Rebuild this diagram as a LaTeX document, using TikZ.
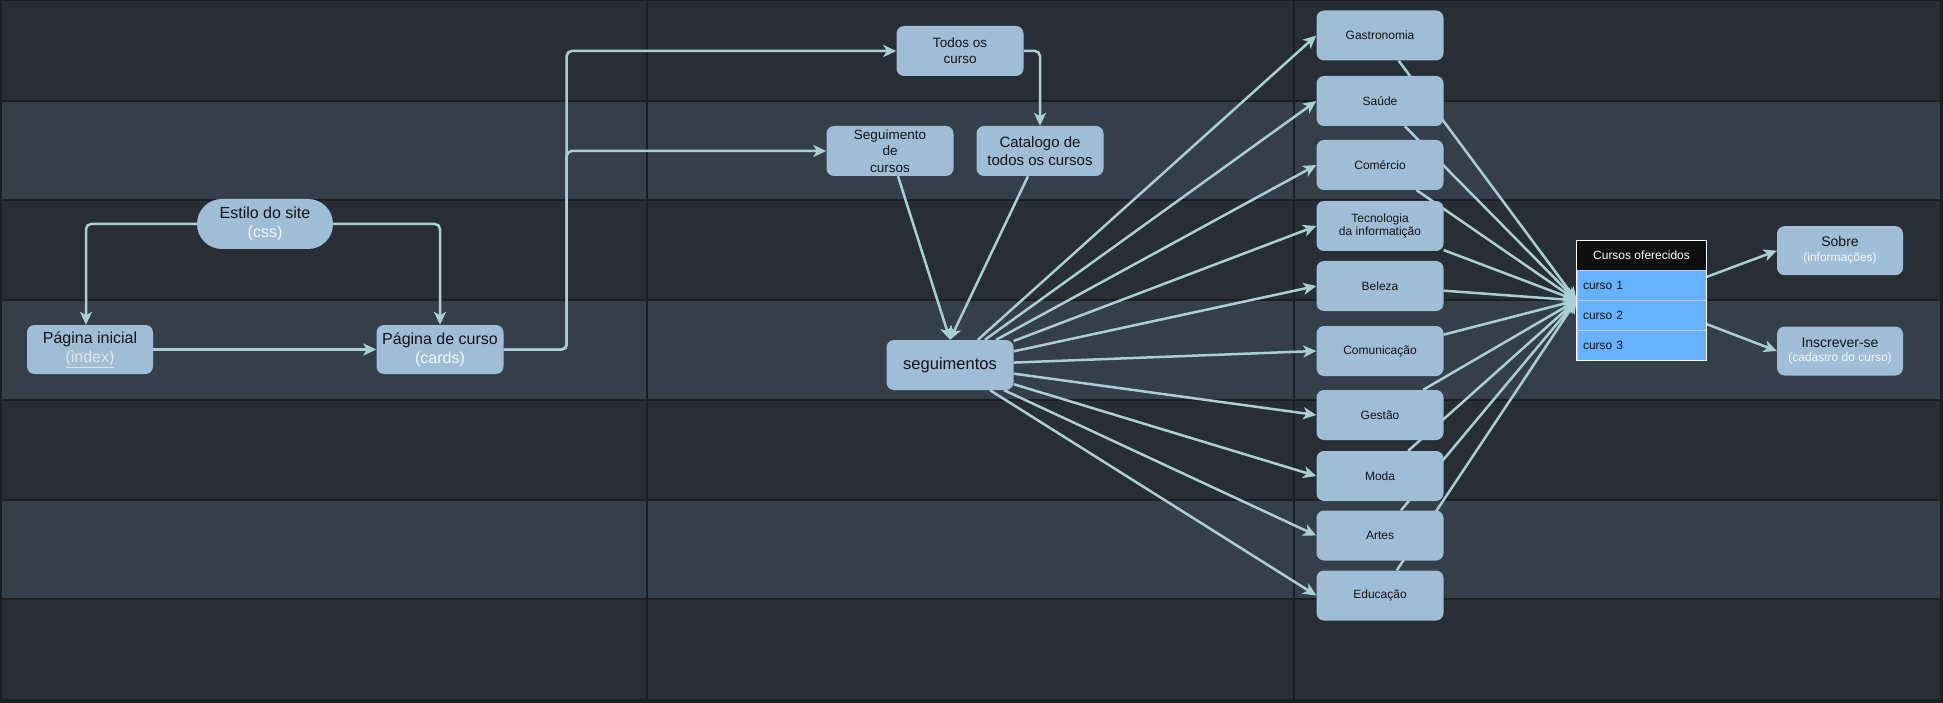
\documentclass[tikz,border=0pt]{standalone}
\usepackage{fontspec}
\setmainfont{Liberation Sans}
\usetikzlibrary{arrows.meta,calc}
\definecolor{bgline}{HTML}{1B1E22}
\definecolor{rowdark}{HTML}{282E36}
\definecolor{rowlight}{HTML}{353F49}
\definecolor{boxfill}{HTML}{A0BDD6}
\definecolor{edgecol}{HTML}{A8CFD4}
\definecolor{txt}{HTML}{141414}
\definecolor{subtxt}{HTML}{F4F7FA}
\definecolor{linktxt}{HTML}{E2E6EA}
\definecolor{rowblue}{HTML}{66B2FF}
\definecolor{rowsep}{HTML}{C4C4F0}
\definecolor{hdrfill}{HTML}{0F0F0F}
\pgfdeclarelayer{bg}
\pgfdeclarelayer{edges}
\pgfsetlayers{bg,edges,main}
\tikzset{
  box/.style={rectangle, rounded corners=7.5pt, fill=boxfill, draw=none,
    minimum width=127pt, minimum height=50pt, inner sep=0pt, align=center,
    text=txt, font=\fontsize{12}{13.3}\selectfont},
  bigbox/.style={box, font=\fontsize{16}{18.75}\selectfont},
  midbox/.style={box, font=\fontsize{13.5}{16.3}\selectfont},
  stadium/.style={bigbox, rounded corners=24.9pt, minimum width=136pt},
  edge/.style={draw=edgecol, line width=2.5pt, rounded corners=5pt,
    -{Stealth[length=13pt, width=12pt, inset=3.5pt]}},
  tabhdr/.style={rectangle, fill=hdrfill, text=white, minimum width=129pt,
    minimum height=29.5pt, inner sep=0pt, font=\fontsize{12}{14}\selectfont},
  tabrow/.style={rectangle, fill=rowblue, draw=rowsep, line width=0.8pt,
    text width=117pt, inner xsep=6pt, inner ysep=0pt, align=left,
    minimum height=30pt, text=txt, font=\fontsize{12}{14}\selectfont},
}
\begin{document}
\begin{tikzpicture}[x=1pt,y=-1pt]
\useasboundingbox (0,0) rectangle (1943,703);
% ---------- background grid ----------
\begin{pgfonlayer}{bg}
  \fill[bgline] (0,0) rectangle (1943,703);
  \fill[rowdark] (1.5,1.5) rectangle (1939.5,698.5);
  \fill[rowlight] (1.5,100.7) rectangle (1939.5,200.4);
  \fill[rowlight] (1.5,300.1) rectangle (1939.5,399.8);
  \fill[rowlight] (1.5,499.5) rectangle (1939.5,599.2);
  \foreach \yy in {100.7,200.4,300.1,399.8,499.5,599.2}
    \draw[bgline, line width=2pt] (1.5,\yy) -- (1939.5,\yy);
  \foreach \xx in {647,1293.5}
    \draw[bgline, line width=2pt] (\xx,1.5) -- (\xx,698.5);
\end{pgfonlayer}
% ---------- nodes ----------
\node[bigbox, minimum width=126pt, minimum height=49pt] (ini) at (90,349.5)
  {Página inicial\\{\color{linktxt}\underline{(index)}}};
\node[bigbox, minimum height=49pt] (pcur) at (440,349.5)
  {Página de curso\\{\color{subtxt}(cards)}};
\node[stadium] (estilo) at (265,224)
  {Estilo do site\\{\color{subtxt}(css)}};
\node[midbox] (todos) at (960,51) {Todos os\\curso};
\node[midbox, font=\fontsize{13.5}{16.7}\selectfont] (segc) at (890,151) {Seguimento\\de\\cursos};
\node[box, font=\fontsize{15}{18.3}\selectfont] (catal) at (1040,151) {Catalogo de\\todos os cursos};
\node[box, font=\fontsize{16.5}{19}\selectfont] (segm) at (950,365) {seguimentos};
\node[box] (gastro) at (1380,35.5) {Gastronomia};
\node[box] (saude) at (1380,101) {Saúde};
\node[box] (comer) at (1380,165) {Comércio};
\node[box] (tec) at (1380,226) {Tecnologia\\da informatição};
\node[box] (bel) at (1380,286) {Beleza};
\node[box] (comun) at (1380,351) {Comunicação};
\node[box] (gest) at (1380,415) {Gestão};
\node[box] (moda) at (1380,476) {Moda};
\node[box] (artes) at (1380,535.5) {Artes};
\node[box] (edu) at (1380,595.5) {Educação};
% table
\node[tabhdr] (hdr) at (1641.5,255.25) {Cursos oferecidos};
\node[tabrow] (c1) at (1641.5,285) {curso 1};
\node[tabrow] (c2) at (1641.5,315) {curso 2};
\node[tabrow] (c3) at (1641.5,345) {curso 3};
\draw[white, line width=0.8pt] (hdr.north west) rectangle (c3.south east);
\coordinate (tabw) at (c1.south west);
\node[box, font=\fontsize{14}{15}\selectfont, minimum width=126pt, minimum height=49pt] (sobre) at (1840,250.7)
  {Sobre\\{\fontsize{12}{14}\selectfont\color{subtxt}(informações)}};
\node[box, font=\fontsize{14}{14.5}\selectfont, minimum width=126pt, minimum height=49pt] (insc) at (1840,351)
  {Inscrever-se\\{\fontsize{12}{14}\selectfont\color{subtxt}(cadastro do curso)}};
% ---------- edges ----------
\begin{pgfonlayer}{edges}
  \draw[edge] (estilo.west) -| ([xshift=-4pt]ini.north);
  \draw[edge] (estilo.east) -| (pcur.north);
  \draw[edge] (ini) -- (pcur);
  \draw[edge] (pcur.east) -- ++(63,0) |- (todos.west);
  \draw[edge] (pcur.east) -- ++(63,0) |- (segc.west);
  \draw[edge] (todos.east) -| (catal.north);
  \draw[edge] (segc) -- (segm.north);
  \draw[edge] (catal) -- (segm.north);
  \foreach \c in {gastro,saude,comer,tec,bel,comun,gest,moda,artes,edu}
    \draw[edge] (segm) -- (\c.west);
  \foreach \c in {gastro,saude,comer,tec,bel,comun,gest,moda,artes,edu}
    \draw[edge] (\c) -- (tabw);
  \draw[edge] ([yshift=8pt]c1.east) -- (sobre.west);
  \draw[edge] ([yshift=-9pt]c2.east) -- (insc.west);
\end{pgfonlayer}
\end{tikzpicture}
\end{document}
